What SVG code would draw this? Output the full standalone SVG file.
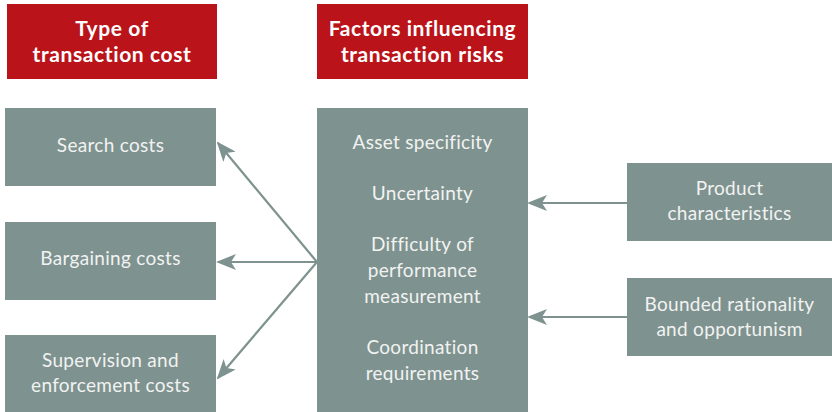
<svg xmlns="http://www.w3.org/2000/svg" width="832" height="412" viewBox="0 0 832 412">
<style>
.hdr{fill:#BA141A}
.box{fill:#7E938F}
.ht{font-family:Lato,"Open Sans",sans-serif;font-weight:bold;font-size:21px;letter-spacing:0.6px;font-variant-ligatures:none;fill:#ffffff;text-anchor:middle}
.bt{font-family:Lato,"Open Sans",sans-serif;font-size:19px;letter-spacing:0.3px;font-variant-ligatures:none;fill:#F2F2F2;text-anchor:middle}
.con{stroke:#7E938F;stroke-width:2.2;fill:none;marker-end:url(#ah)}
</style>
<defs>
<marker id="ah" markerWidth="20" markerHeight="16" viewBox="0 0 20 16" refX="18" refY="8" orient="auto" markerUnits="userSpaceOnUse">
<path d="M0,0 L20,8 L0,16 L5,8 Z" fill="#7E938F"/>
</marker>
</defs>
<rect width="832" height="412" fill="#ffffff"/>
<g id="hdr-type">
<rect class="hdr" x="7" y="4" width="210" height="75"/>
<text class="ht" x="112" y="36">Type of</text>
<text class="ht" x="112" y="62">transaction cost</text>
</g>
<g id="hdr-factors">
<rect class="hdr" x="317" y="4" width="211" height="75"/>
<text class="ht" x="422.5" y="36">Factors influencing</text>
<text class="ht" x="422.5" y="62">transaction risks</text>
</g>
<g id="search">
<rect class="box" x="5" y="108" width="211" height="78"/>
<text class="bt" x="110.5" y="152">Search costs</text>
</g>
<g id="bargaining">
<rect class="box" x="5" y="222" width="211" height="78"/>
<text class="bt" x="110.5" y="265">Bargaining costs</text>
</g>
<g id="supervision">
<rect class="box" x="5" y="335" width="211" height="77"/>
<text class="bt" x="110.5" y="367">Supervision and</text>
<text class="bt" x="110.5" y="392">enforcement costs</text>
</g>
<g id="factors">
<rect class="box" x="317" y="108" width="211" height="304"/>
<text class="bt" x="422.5" y="149">Asset specificity</text>
<text class="bt" x="422.5" y="200">Uncertainty</text>
<text class="bt" x="422.5" y="251">Difficulty of</text>
<text class="bt" x="422.5" y="277">performance</text>
<text class="bt" x="422.5" y="303">measurement</text>
<text class="bt" x="422.5" y="354">Coordination</text>
<text class="bt" x="422.5" y="380">requirements</text>
</g>
<g id="product">
<rect class="box" x="627" y="163" width="205" height="78"/>
<text class="bt" x="729.5" y="195">Product</text>
<text class="bt" x="729.5" y="220">characteristics</text>
</g>
<g id="bounded">
<rect class="box" x="627" y="278" width="205" height="78"/>
<text class="bt" x="729.5" y="311">Bounded rationality</text>
<text class="bt" x="729.5" y="336">and opportunism</text>
</g>
<g id="connectors">
<line class="con" x1="317" y1="262" x2="218" y2="143"/>
<line class="con" x1="317" y1="262" x2="218" y2="262"/>
<line class="con" x1="317" y1="262" x2="218" y2="378"/>
<line class="con" x1="627" y1="203" x2="529" y2="203"/>
<line class="con" x1="627" y1="317" x2="529" y2="317"/>
</g>
</svg>
